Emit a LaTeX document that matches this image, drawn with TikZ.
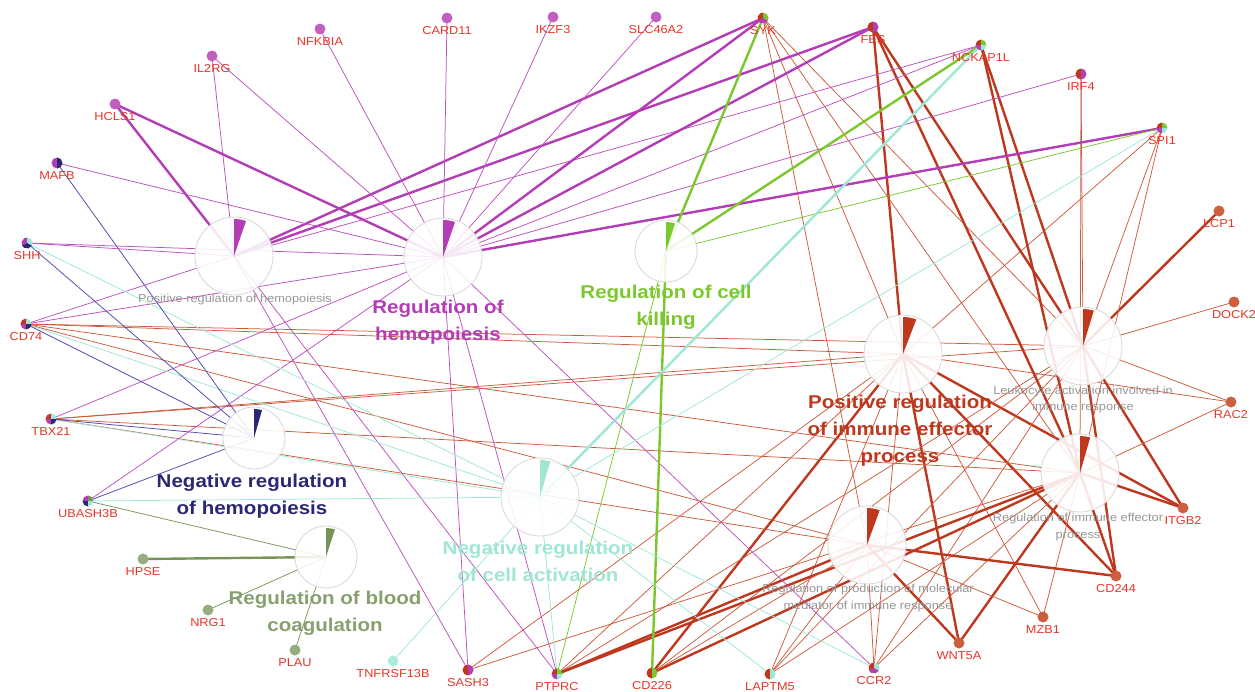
\documentclass[tikz,border=0pt]{standalone}
\usepackage{fontspec}
\setmainfont{Liberation Sans}[FakeStretch=1.11]
\usetikzlibrary{calc}
\definecolor{mag}{RGB}{180,60,180}
\definecolor{magE}{RGB}{190,80,190}
\definecolor{magN}{RGB}{194,96,194}
\definecolor{grn}{RGB}{122,200,45}
\definecolor{org}{RGB}{190,56,30}
\definecolor{orgE}{RGB}{205,90,60}
\definecolor{orgN}{RGB}{205,95,65}
\definecolor{cyn}{RGB}{160,230,212}
\definecolor{cynN}{RGB}{172,236,220}
\definecolor{nvy}{RGB}{42,40,115}
\definecolor{nvyE}{RGB}{75,75,175}
\definecolor{olv}{RGB}{118,148,88}
\definecolor{olvT}{RGB}{135,160,110}
\definecolor{olvN}{RGB}{150,172,125}
\definecolor{lbl}{RGB}{232,52,40}
\definecolor{gry}{RGB}{150,150,150}
\definecolor{brd}{RGB}{215,215,215}
\newcommand{\gpie}[2]{\foreach \ta/\tb/\cl in {#2}{\fill[\cl] (#1) -- ++(\ta:5.5) arc[start angle=\ta,end angle=\tb,radius=5.5] -- cycle;}}
\newcommand{\qpie}[5]{\gpie{#1}{-180/-90/#2,-90/0/#3,90/180/#4,0/90/#5}}
\newcommand{\hpie}[3]{\gpie{#1}{90/270/#2,-90/90/#3}}
\newcommand{\termwedge}[4]{\fill[#2] (#1) -- ++(-90:#3) arc[start angle=-90,end angle={-90+#4},radius=#3] -- cycle;}
\begin{document}
\begin{tikzpicture}[x=1pt,y=-1pt,
  ethin/.style={line width=0.75pt},
  ethick/.style={line width=2.4pt},
  term/.style={circle,draw=brd,line width=0.8pt,fill=white,fill opacity=0.88,inner sep=0pt},
  glab/.style={anchor=north,inner sep=0pt,text=lbl,font=\fontsize{11.5}{13}\selectfont},
  big/.style={align=center,font=\fontsize{18.5}{27}\selectfont\bfseries},
  small/.style={align=center,text=gry,font=\fontsize{11.5}{16.5}\selectfont}]
\useasboundingbox (0,0) rectangle (1255,691);
% genes
\coordinate (HCLS1) at (115,104);
\coordinate (IL2RG) at (212,56);
\coordinate (NFKBIA) at (320,29);
\coordinate (CARD11) at (447,18);
\coordinate (IKZF3) at (553,17);
\coordinate (SLC46A2) at (656,17);
\coordinate (SYK) at (763,18);
\coordinate (FES) at (873,27);
\coordinate (NCKAP1L) at (981,45);
\coordinate (IRF4) at (1081,74);
\coordinate (SPI1) at (1162,128);
\coordinate (LCP1) at (1219,211);
\coordinate (DOCK2) at (1234,302);
\coordinate (RAC2) at (1231,402);
\coordinate (ITGB2) at (1183,508);
\coordinate (CD244) at (1116,576);
\coordinate (MZB1) at (1043,617);
\coordinate (WNT5A) at (959,643);
\coordinate (CCR2) at (874,668);
\coordinate (LAPTM5) at (770,674);
\coordinate (CD226) at (652,673);
\coordinate (PTPRC) at (557,674);
\coordinate (SASH3) at (468,670);
\coordinate (TNFRSF13B) at (393,661);
\coordinate (PLAU) at (295,650);
\coordinate (NRG1) at (208,610);
\coordinate (HPSE) at (143,559);
\coordinate (UBASH3B) at (88,501);
\coordinate (TBX21) at (51,419);
\coordinate (CD74) at (26,324);
\coordinate (SHH) at (27,243);
\coordinate (MAFB) at (57,163);
% terms
\coordinate (PRH) at (234,256);
\coordinate (RH) at (443,257);
\coordinate (RCK) at (666,251);
\coordinate (PRIEP) at (903,354);
\coordinate (LAIR) at (1083,346);
\coordinate (RIEP) at (1080,473);
\coordinate (RPMM) at (867,545);
\coordinate (NRCA) at (540,497);
\coordinate (NRH) at (254,438);
\coordinate (RBC) at (326,557);
% ---- edges ----
% orange
\foreach \g in {SYK,SPI1,CD74,TBX21,SASH3,PTPRC,LAPTM5,CCR2,MZB1,RAC2} \draw[ethin,orgE] (\g) -- (PRIEP);
\foreach \g in {FES,CD226,WNT5A,CD244,ITGB2} \draw[ethick,org] (\g) -- (PRIEP);
\foreach \g in {SYK,IRF4,SPI1,DOCK2,RAC2,CD74,TBX21,PTPRC,CD226,LAPTM5,CCR2} \draw[ethin,orgE] (\g) -- (LAIR);
\foreach \g in {FES,NCKAP1L,LCP1,ITGB2,CD244} \draw[ethick,org] (\g) -- (LAIR);
\foreach \g in {SYK,IRF4,SPI1,RAC2,MZB1,CCR2,LAPTM5,SASH3,CD74,TBX21} \draw[ethin,orgE] (\g) -- (RIEP);
\foreach \g in {FES,NCKAP1L,ITGB2,CD244,WNT5A,CD226,PTPRC} \draw[ethick,org] (\g) -- (RIEP);
\foreach \g in {SYK,CD74,TBX21,CD226,LAPTM5,CCR2,MZB1} \draw[ethin,orgE] (\g) -- (RPMM);
\foreach \g in {PTPRC,WNT5A,CD244} \draw[ethick,org] (\g) -- (RPMM);
% magenta
\foreach \g in {IL2RG,NCKAP1L,SHH,CD74,SASH3,PTPRC} \draw[ethin,magE] (\g) -- (PRH);
\foreach \g in {HCLS1,SYK,FES} \draw[ethick,mag] (\g) -- (PRH);
\foreach \g in {IL2RG,NFKBIA,CARD11,IKZF3,SLC46A2,NCKAP1L,IRF4,MAFB,SHH,CD74,TBX21,UBASH3B,SASH3,PTPRC,CCR2} \draw[ethin,magE] (\g) -- (RH);
\foreach \g in {HCLS1,SYK,FES,SPI1} \draw[ethick,mag] (\g) -- (RH);
% green
\foreach \g in {SPI1,PTPRC} \draw[ethin,grn] (\g) -- (RCK);
\foreach \g in {SYK,NCKAP1L,CD226} \draw[ethick,grn] (\g) -- (RCK);
% cyan
\foreach \g in {SPI1,SHH,CD74,TBX21,UBASH3B,TNFRSF13B,PTPRC,LAPTM5,CCR2} \draw[ethin,cyn] (\g) -- (NRCA);
\draw[ethick,cyn] (NCKAP1L) -- (NRCA);
% navy
\foreach \g in {MAFB,SHH,CD74,TBX21,UBASH3B} \draw[ethin,nvyE] (\g) -- (NRH);
% olive
\foreach \g in {UBASH3B,NRG1,PLAU} \draw[ethin,olv] (\g) -- (RBC);
\draw[ethick,olv] (HPSE) -- (RBC);
% ---- term nodes ----
\node[term,minimum size=78] (PRHn) at (PRH) {};
\node[term,minimum size=78] (RHn) at (RH) {};
\node[term,minimum size=62] (RCKn) at (RCK) {};
\node[term,minimum size=78] (PRIEPn) at (PRIEP) {};
\node[term,minimum size=78] (LAIRn) at (LAIR) {};
\node[term,minimum size=78] (RIEPn) at (RIEP) {};
\node[term,minimum size=78] (RPMMn) at (RPMM) {};
\node[term,minimum size=78] (NRCAn) at (NRCA) {};
\node[term,minimum size=62] (NRHn) at (NRH) {};
\node[term,minimum size=62] (RBCn) at (RBC) {};
\termwedge{PRH}{mag}{37}{19}
\termwedge{RH}{mag}{37}{19}
\termwedge{RCK}{grn}{29}{18}
\termwedge{PRIEP}{org}{37}{21}
\termwedge{LAIR}{org}{37}{17}
\termwedge{RIEP}{org}{37}{16}
\termwedge{RPMM}{org}{37}{20}
\termwedge{NRCA}{cyn}{37}{16}
\termwedge{NRH}{nvy}{29}{16}
\termwedge{RBC}{olv}{29}{18}
% term labels
\node[small] (PRHl) at (235,300) {Positive regulation of hemopoiesis};
\node[big,text=mag] (RHl) at (438,322) {Regulation of\\hemopoiesis};
\node[big,text=grn] (RCKl) at (666,307) {Regulation of cell\\killing};
\node[big,text=org] (PRIEPl) at (900,431) {Positive regulation\\of immune effector\\process};
\node[small] (LAIRl) at (1083,399.5) {Leukocyte activation involved in\\immune response};
\node[small] (RIEPl) at (1078,527) {Regulation of immune effector\\process};
\node[small] (RPMMl) at (868,598) {Regulation of production of molecular\\mediator of immune response};
\node[big,text=cyn] (NRCAl) at (538,561) {Negative regulation\\of cell activation};
\node[big,text=nvy] (NRHl) at (252,496) {Negative regulation\\of hemopoiesis};
\node[big,text=olvT] (RBCl) at (325,613) {Regulation of blood\\coagulation};
% ---- gene nodes ----
\foreach \g in {HCLS1,IL2RG,NFKBIA,CARD11,IKZF3,SLC46A2} \fill[magN] (\g) circle[radius=5.5];
\foreach \g in {LCP1,DOCK2,RAC2,ITGB2,CD244,MZB1,WNT5A} \fill[orgN] (\g) circle[radius=5.5];
\foreach \g in {HPSE,NRG1,PLAU} \fill[olvN] (\g) circle[radius=5.5];
\fill[cynN] (TNFRSF13B) circle[radius=5.5];
\gpie{SYK}{150/270/org,-90/30/grn,30/150/mag}
\hpie{FES}{org}{mag}
\qpie{NCKAP1L}{org}{grn}{mag}{cyn}
\hpie{IRF4}{org}{mag}
\qpie{SPI1}{org}{grn}{mag}{cyn}
\hpie{MAFB}{mag}{nvy}
\gpie{SHH}{150/270/mag,-90/30/cyn,30/150/nvy}
\qpie{CD74}{org}{cyn}{mag}{nvy}
\qpie{TBX21}{org}{cyn}{mag}{nvy}
\qpie{UBASH3B}{mag}{olv}{nvy}{cyn}
\hpie{SASH3}{org}{mag}
\qpie{PTPRC}{org}{grn}{mag}{cyn}
\hpie{CD226}{org}{grn}
\hpie{LAPTM5}{org}{cyn}
\gpie{CCR2}{150/270/org,-90/30/cyn,30/150/mag}
% gene labels
\foreach \g in {HCLS1,IL2RG,NFKBIA,CARD11,IKZF3,SLC46A2,SYK,FES,NCKAP1L,IRF4,SPI1,LCP1,DOCK2,RAC2,ITGB2,CD244,MZB1,WNT5A,CCR2,LAPTM5,CD226,PTPRC,SASH3,TNFRSF13B,PLAU,NRG1,HPSE,UBASH3B,TBX21,CD74,SHH,MAFB}
  \node[glab] (\g-l) at ($(\g)+(0,8.5)$) {\g};
\end{tikzpicture}
\end{document}
